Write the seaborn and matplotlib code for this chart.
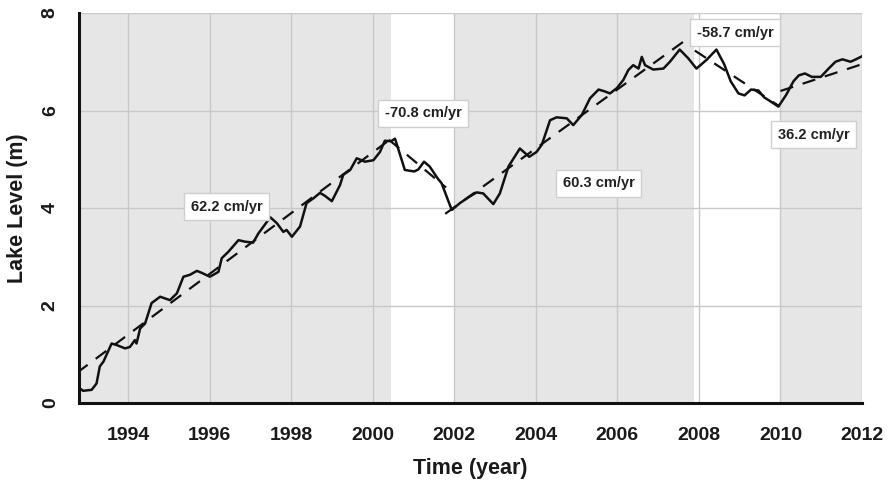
import matplotlib
matplotlib.use("Agg")
import matplotlib.pyplot as plt
import seaborn as sns
import pandas as pd

# ---- data ----
years = [1992.77, 1992.90, 1993.11, 1993.23, 1993.31, 1993.40, 1993.60, 1993.72, 1993.93, 1994.05,
         1994.17, 1994.21, 1994.30, 1994.42, 1994.58, 1994.79, 1995.03, 1995.20, 1995.36, 1995.52,
         1995.69, 1995.81, 1996.01, 1996.22, 1996.30, 1996.46, 1996.71, 1996.87, 1997.07, 1997.20,
         1997.35, 1997.49, 1997.65, 1997.81, 1997.89, 1998.02, 1998.22, 1998.38, 1998.55, 1998.71,
         1998.83, 1999.00, 1999.20, 1999.28, 1999.45, 1999.61, 1999.81, 2000.02, 2000.18, 2000.30,
         2000.45, 2000.55, 2000.79, 2001.02, 2001.12, 2001.26, 2001.40, 2001.60, 2001.69, 2001.94,
         2002.14, 2002.35, 2002.55, 2002.71, 2002.96, 2003.12, 2003.33, 2003.61, 2003.84, 2004.02,
         2004.15, 2004.35, 2004.51, 2004.76, 2004.92, 2005.13, 2005.33, 2005.54, 2005.70, 2005.82,
         2005.99, 2006.15, 2006.27, 2006.39, 2006.52, 2006.60, 2006.68, 2006.88, 2007.13, 2007.29,
         2007.53, 2007.74, 2007.94, 2008.19, 2008.43, 2008.62, 2008.78, 2008.97, 2009.12, 2009.28,
         2009.46, 2009.60, 2009.77, 2009.95, 2010.14, 2010.32, 2010.45, 2010.60, 2010.77, 2010.99,
         2011.17, 2011.35, 2011.52, 2011.72, 2011.85, 2012.02]
level = [0.33, 0.25, 0.27, 0.40, 0.75, 0.85, 1.22, 1.19, 1.12, 1.15,
         1.29, 1.22, 1.53, 1.63, 2.05, 2.18, 2.11, 2.25, 2.59, 2.63,
         2.71, 2.67, 2.59, 2.69, 2.97, 3.10, 3.34, 3.31, 3.29, 3.48,
         3.65, 3.81, 3.69, 3.51, 3.55, 3.41, 3.62, 4.10, 4.20, 4.31,
         4.25, 4.14, 4.47, 4.68, 4.78, 5.02, 4.95, 4.98, 5.15, 5.38,
         5.37, 5.42, 4.78, 4.75, 4.79, 4.95, 4.85, 4.60, 4.51, 3.96,
         4.10, 4.22, 4.32, 4.30, 4.08, 4.30, 4.85, 5.22, 5.05, 5.15,
         5.30, 5.80, 5.86, 5.84, 5.70, 5.91, 6.25, 6.43, 6.39, 6.35,
         6.46, 6.63, 6.83, 6.93, 6.86, 7.10, 6.93, 6.84, 6.86, 7.00,
         7.25, 7.07, 6.86, 7.04, 7.25, 6.95, 6.60, 6.35, 6.31, 6.43,
         6.41, 6.27, 6.18, 6.08, 6.32, 6.60, 6.72, 6.76, 6.69, 6.69,
         6.85, 7.00, 7.05, 7.00, 7.05, 7.12]

# trend segments (start/end)
trend_id = ["a", "a", "b", "b", "c", "c", "d", "d", "e", "e"]
trend_x = [1992.75, 2000.45, 2000.40, 2001.80, 2001.78, 2007.85, 2007.90, 2009.95, 2010.00, 2012.00]
trend_y = [0.62, 5.42, 5.40, 4.42, 3.88, 7.55, 7.23, 6.10, 6.40, 6.95]

rate_labels = ["62.2 cm/yr", "-70.8 cm/yr", "60.3 cm/yr", "-58.7 cm/yr", "36.2 cm/yr"]
label_x = [1996.42, 2001.24, 2005.54, 2008.89, 2010.81]
label_y = [4.03, 5.94, 4.51, 7.60, 5.50]

shaded = [(1992.8, 2000.45), (2002.0, 2007.88), (2010.0, 2012.0)]

xticks = [1994, 1996, 1998, 2000, 2002, 2004, 2006, 2008, 2010, 2012]
yticks = [0, 2, 4, 6, 8]

# ---- style ----
sns.set_style("white")
plt.rcParams["font.family"] = ["Liberation Sans", "DejaVu Sans"]

fig = plt.figure(figsize=(8.94, 4.83), dpi=100)
ax = fig.add_axes([79 / 894, 80 / 483, (862 - 79) / 894, (403 - 13) / 483])
ax.set_facecolor("white")

for a, b in shaded:
    ax.axvspan(a, b, color="#e6e6e6", lw=0, zorder=0.2)

df = pd.DataFrame({"year": years, "level": level})
sns.lineplot(data=df, x="year", y="level", ax=ax, color="#111111", lw=1.8,
             sort=False, estimator=None, zorder=3)

tdf = pd.DataFrame({"year": trend_x, "level": trend_y, "seg": trend_id})
for seg, g in tdf.groupby("seg"):
    sns.lineplot(data=g, x="year", y="level", ax=ax, color="#111111", lw=1.6,
                 sort=False, estimator=None, zorder=3, dashes=False,
                 linestyle=(0, (6, 4.5)))

for s, x, y in zip(rate_labels, label_x, label_y):
    ax.text(x, y, s, ha="center", va="center", fontsize=10.5, fontweight="bold",
            color="#222222", zorder=5,
            bbox=dict(boxstyle="square,pad=0.45", fc="white", ec="#cfcfcf", lw=1))

ax.set_xlim(1992.8, 2012.0)
ax.set_ylim(0, 8)
ax.set_xticks(xticks)
ax.set_yticks(yticks)
ax.set_xticks([1993 + 2 * i for i in range(10)], minor=True)
ax.set_yticks([1, 3, 5, 7], minor=True)
ax.set_xticklabels([str(t) for t in xticks], fontsize=14, fontweight="bold", color="#1a1a1a")
ax.set_yticklabels([str(t) for t in yticks], fontsize=14, fontweight="bold", color="#1a1a1a",
                   rotation=90, va="center")

ax.grid(True, which="major", color="#c8c8c8", lw=1.0)
ax.set_axisbelow(True)

for side in ["top", "right"]:
    ax.spines[side].set_visible(False)
for side in ["left", "bottom"]:
    ax.spines[side].set_linewidth(2.2)
    ax.spines[side].set_color("#111111")

ax.tick_params(axis="both", which="major", direction="out", length=9.5, width=2.0,
               color="#111111", pad=5)
ax.tick_params(axis="x", which="major", pad=8)
ax.tick_params(axis="both", which="minor", direction="out", length=5, width=2.0,
               color="#111111")

ax.set_xlabel("Time (year)", fontsize=15.5, fontweight="bold", color="#1a1a1a", labelpad=10)
ax.set_ylabel("Lake Level (m)", fontsize=15.5, fontweight="bold", color="#1a1a1a", labelpad=10)

fig.savefig("out.png", dpi=100)
